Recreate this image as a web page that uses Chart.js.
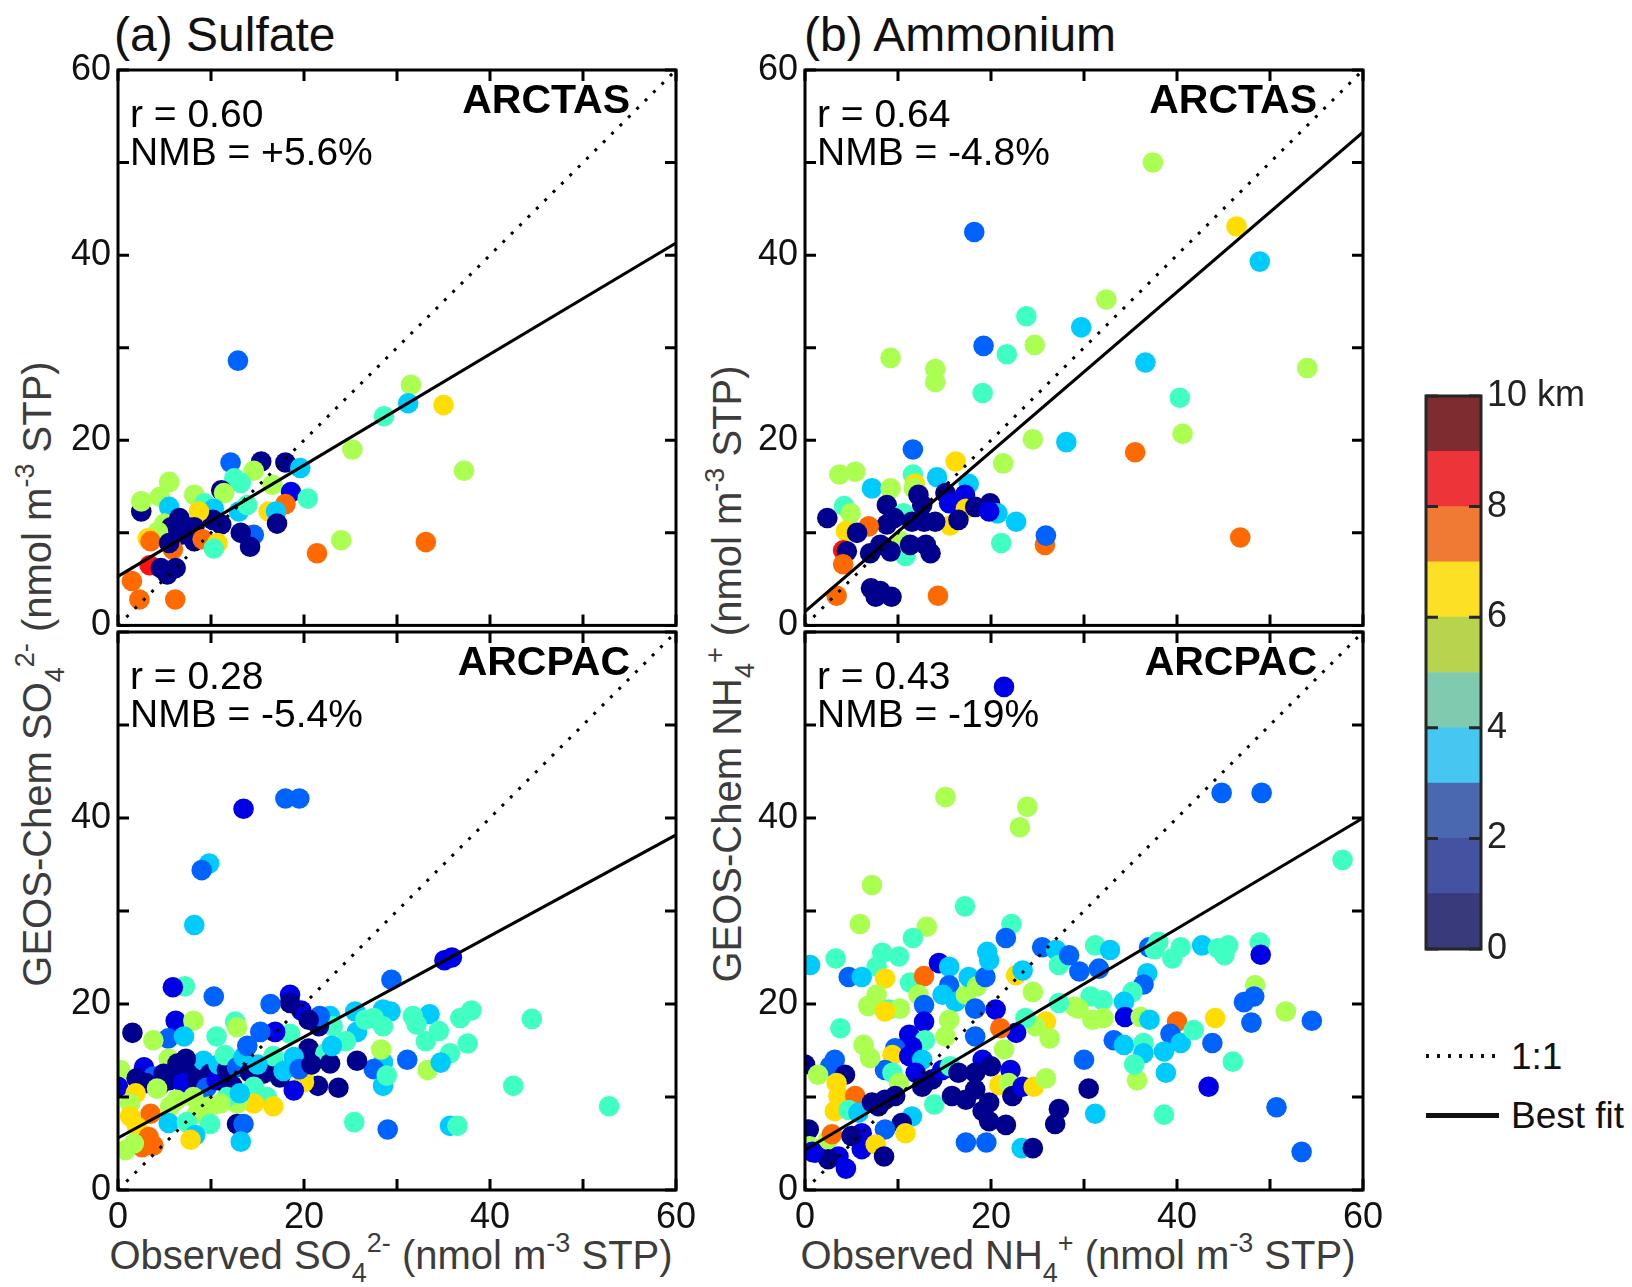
<!DOCTYPE html>
<html>
<head>
<meta charset="utf-8">
<script src="https://cdn.jsdelivr.net/npm/chart.js@4.4.1/dist/chart.umd.min.js"></script>
<style>
  body { margin: 0; background: #fff; font-family: "Liberation Sans", Arial, sans-serif; }
  #page { position: relative; width: 1632px; height: 1287px; overflow: hidden; }
  canvas, .txt { position: absolute; }
  .title { font-size: 48px; line-height: 48px; color: #111; white-space: nowrap; }
  .axt { font-size: 40px; line-height: 44px; height: 44px; color: #3c3c3c; white-space: nowrap; text-align: center; }
  .sb { font-size: 27px; position: relative; top: 13px; }
  .sp { font-size: 27px; position: relative; top: -17px; }
  .rot { transform: rotate(-90deg); transform-origin: 50% 50%; }
  .leg { font-size: 37px; line-height: 40px; color: #111; white-space: nowrap; }
</style>
</head>
<body>
<div id="page">
  <div class="txt title" style="left:114px; top:11px;">(a) Sulfate</div>
  <div class="txt title" style="left:804px; top:11px;">(b) Ammonium</div>

  <div class="txt axt rot" style="left:-343px; top:652px; width:760px;">GEOS-Chem SO<span class="sb">4</span><span class="sp">2-</span> (nmol m<span class="sp">-3</span> STP)</div>
  <div class="txt axt rot" style="left:347px; top:652px; width:760px;">GEOS-Chem NH<span class="sb">4</span><span class="sp">+</span> (nmol m<span class="sp">-3</span> STP)</div>

  <div class="txt axt" style="left:41px; top:1233px; width:700px;">Observed SO<span class="sb">4</span><span class="sp">2-</span> (nmol m<span class="sp">-3</span> STP)</div>
  <div class="txt axt" style="left:728px; top:1233px; width:700px;">Observed NH<span class="sb">4</span><span class="sp">+</span> (nmol m<span class="sp">-3</span> STP)</div>

  <canvas id="sulfArctas" width="668" height="614" style="left:38px; top:40px;"></canvas>
  <canvas id="sulfArcpac" width="668" height="643" style="left:38px; top:602px;"></canvas>
  <canvas id="nh4Arctas" width="668" height="614" style="left:725px; top:40px;"></canvas>
  <canvas id="nh4Arcpac" width="668" height="643" style="left:725px; top:602px;"></canvas>
  <canvas id="altBar" width="205" height="613" style="left:1416px; top:366px;"></canvas>

  <div class="txt" style="left:1426px; top:1054px; width:73px; height:4px;
       background: repeating-linear-gradient(to right, #111 0 3px, transparent 3px 11px);"></div>
  <div class="txt leg" style="left:1511px; top:1037px;">1:1</div>
  <div class="txt" style="left:1426px; top:1113px; width:73px; height:5px; background:#111;"></div>
  <div class="txt leg" style="left:1511px; top:1096px;">Best fit</div>
</div>

<script>
// [observed, model, altitude bin (km)]
const sulfateArctas = [
  [12.9, 28.6, 2], [31.5, 26.0, 5], [31.2, 24.0, 3], [28.6, 22.6, 4], [35.0, 23.8, 6],
  [25.2, 19.0, 5], [37.2, 16.7, 5], [24.0, 9.2, 5], [21.4, 7.8, 7], [33.1, 9.0, 7],
  [12.1, 17.6, 2], [15.4, 17.7, 0], [18.0, 17.6, 0], [19.6, 17.0, 3], [14.6, 16.7, 5],
  [16.6, 15.2, 5], [12.5, 15.9, 4], [13.2, 15.4, 4], [11.1, 14.6, 0], [11.4, 14.3, 5],
  [5.5, 15.5, 5], [4.5, 13.9, 5], [2.5, 12.3, 0], [2.5, 13.4, 5], [5.5, 12.8, 3],
  [8.2, 14.1, 5], [9.3, 13.2, 4], [10.3, 12.6, 3], [13.0, 12.3, 3], [13.9, 13.0, 4],
  [18.6, 14.4, 1], [20.4, 13.7, 4], [18.0, 13.1, 7], [16.2, 12.3, 6], [17.0, 12.3, 3],
  [17.1, 11.0, 0], [14.1, 9.8, 6], [14.6, 9.8, 2], [13.2, 10.0, 0], [14.2, 8.5, 0],
  [11.1, 10.9, 0], [10.2, 11.4, 0], [8.7, 12.3, 6], [5.0, 11.0, 5], [6.6, 11.6, 0],
  [7.5, 10.6, 0], [5.7, 10.6, 0], [8.2, 10.6, 0], [6.8, 9.8, 0], [4.3, 10.1, 5],
  [3.2, 9.4, 6], [3.5, 9.1, 7], [5.9, 8.2, 7], [5.5, 8.9, 0], [8.2, 9.1, 0],
  [9.1, 9.3, 7], [10.7, 8.9, 6], [10.3, 8.3, 4], [3.4, 6.5, 8], [4.6, 6.2, 0],
  [5.3, 5.5, 0], [6.2, 6.2, 0], [1.5, 4.8, 7], [2.3, 2.8, 7], [6.15, 2.8, 7]
];

const ammoniumArctas = [
  [37.4, 50.0, 5], [46.4, 43.1, 6], [48.9, 39.3, 3], [18.2, 42.5, 2], [32.4, 35.2, 5],
  [23.8, 33.4, 4], [29.7, 32.2, 3], [19.2, 30.2, 2], [24.7, 30.3, 5], [21.7, 29.3, 4],
  [9.2, 28.9, 5], [14.0, 27.7, 5], [14.0, 26.3, 5], [54.0, 27.8, 5], [36.6, 28.4, 3],
  [19.1, 25.1, 4], [40.3, 24.6, 4], [40.6, 20.7, 5], [24.5, 20.1, 5], [28.1, 19.8, 3],
  [35.5, 18.7, 7], [46.8, 9.5, 7], [25.8, 8.7, 7], [25.9, 9.7, 2], [22.7, 11.2, 3],
  [21.1, 8.9, 4], [21.3, 17.5, 5], [11.6, 19.0, 2], [16.2, 17.7, 6], [3.7, 16.3, 5],
  [5.4, 16.6, 5], [11.6, 16.3, 4], [11.8, 15.3, 6], [11.7, 14.8, 5], [14.2, 16.0, 3],
  [7.2, 14.8, 3], [9.2, 14.8, 5], [17.6, 15.3, 3], [4.2, 12.9, 4], [4.9, 12.1, 5],
  [2.4, 11.6, 0], [8.8, 13.0, 0], [12.2, 14.1, 0], [12.6, 13.0, 0], [15.1, 14.3, 0],
  [15.5, 13.2, 1], [17.2, 14.1, 1], [17.3, 12.6, 6], [18.3, 12.8, 0], [19.9, 13.2, 0],
  [20.7, 12.1, 3], [19.8, 12.3, 1], [15.6, 10.8, 6], [16.5, 11.4, 0], [14.0, 11.2, 0],
  [10.6, 12.1, 4], [9.6, 11.6, 0], [8.8, 10.9, 0], [11.5, 11.2, 0], [12.8, 11.2, 0],
  [6.85, 10.7, 7], [4.4, 10.2, 6], [5.6, 10.0, 0], [4.1, 8.1, 8], [4.5, 8.0, 0],
  [4.1, 6.6, 7], [10.3, 9.1, 5], [10.8, 7.5, 4], [7.0, 7.8, 0], [8.1, 8.7, 0],
  [9.2, 8.0, 0], [11.3, 8.7, 0], [13.0, 8.7, 0], [13.5, 7.8, 0], [7.1, 4.0, 0],
  [8.1, 3.7, 0], [7.6, 3.1, 0], [9.3, 3.1, 0], [3.4, 3.2, 7], [14.3, 3.2, 7]
];

const sulfateArcpac = [
  [13.5, 41.0, 1], [18.0, 42.1, 2], [19.5, 42.1, 2], [9.8, 35.1, 3], [9.0, 34.4, 2],
  [8.2, 28.5, 3], [35.1, 24.7, 1], [35.9, 25.0, 1], [29.4, 22.6, 2], [7.2, 21.9, 4],
  [5.9, 21.8, 1], [10.3, 20.8, 2], [44.5, 18.4, 4], [42.5, 11.2, 4], [52.8, 9.0, 4],
  [35.7, 6.9, 3], [36.5, 6.9, 4], [29.0, 6.5, 2], [25.4, 7.3, 4], [33.3, 12.9, 5],
  [1.55, 16.9, 0], [38.0, 19.3, 4], [36.8, 18.5, 4], [33.5, 18.9, 3], [31.7, 18.7, 4],
  [32.1, 17.8, 4], [34.5, 17.1, 4], [33.1, 16.0, 4], [37.6, 15.75, 4], [35.7, 14.7, 4],
  [34.7, 13.7, 3], [31.1, 14.0, 2], [28.5, 13.7, 3], [27.5, 13.0, 2], [25.7, 13.9, 0],
  [28.5, 11.2, 3], [28.9, 12.3, 4], [28.3, 15.1, 5], [23.7, 11.0, 0], [21.5, 11.2, 0],
  [25.7, 17.0, 3], [25.5, 19.2, 3], [26.6, 18.3, 4], [28.5, 19.4, 3], [29.3, 19.2, 3],
  [28.5, 17.6, 4], [22.8, 18.7, 3], [23.1, 17.6, 4], [21.6, 17.6, 0], [21.7, 18.7, 2],
  [19.7, 19.3, 1], [18.5, 21.0, 1], [18.5, 20.1, 0], [16.4, 20.0, 2], [18.5, 16.8, 4],
  [20.5, 18.3, 0], [20.5, 15.2, 0], [22.3, 14.7, 4], [22.8, 13.6, 0], [20.0, 12.5, 5],
  [20.0, 11.6, 6], [18.9, 10.7, 1], [17.4, 12.1, 0], [16.7, 13.5, 0], [18.9, 14.3, 3],
  [16.7, 14.4, 4], [16.9, 17.0, 1], [15.3, 17.0, 2], [6.2, 18.2, 1], [8.1, 18.2, 5],
  [5.4, 16.3, 2], [7.1, 16.5, 3], [3.8, 16.1, 5], [5.45, 14.1, 5], [10.6, 16.5, 4],
  [12.6, 18.1, 4], [12.8, 17.5, 5], [24.5, 16.0, 4], [23.0, 15.5, 3], [27.5, 18.5, 4],
  [0.25, 12.9, 5], [0.0, 11.1, 1], [2.8, 13.2, 1], [3.8, 12.2, 2], [2.0, 12.0, 0],
  [3.0, 11.5, 0], [4.5, 11.3, 1], [4.9, 12.5, 0], [6.0, 12.2, 0], [5.5, 11.8, 0],
  [7.2, 12.9, 0], [8.1, 13.2, 0], [9.2, 13.9, 3], [7.3, 14.1, 0], [6.4, 13.6, 0],
  [7.0, 11.5, 1], [8.5, 11.8, 0], [9.9, 12.5, 0], [9.5, 11.0, 2], [10.6, 11.8, 1],
  [10.8, 13.5, 3], [11.7, 12.9, 0], [11.5, 14.5, 4], [12.8, 13.2, 2], [13.5, 14.3, 3],
  [13.9, 15.5, 2], [14.2, 12.6, 0], [12.3, 11.2, 0], [15.6, 12.5, 0], [15.0, 13.5, 3],
  [17.8, 12.8, 3], [19.5, 13.0, 2], [20.8, 13.5, 0], [14.6, 11.1, 4], [16.0, 10.0, 4],
  [14.6, 9.3, 6], [16.7, 9.0, 6], [12.8, 9.3, 5], [11.7, 10.0, 4], [13.1, 10.4, 3],
  [1.9, 10.4, 6], [1.3, 9.3, 5], [4.2, 10.9, 5], [8.1, 10.0, 5], [6.3, 9.7, 5],
  [5.6, 9.0, 5], [9.9, 9.0, 5], [11.0, 9.3, 5], [8.5, 8.2, 5], [1.3, 7.9, 6],
  [3.5, 8.2, 7], [2.05, 6.8, 6], [5.45, 7.2, 3], [7.4, 7.3, 4], [9.9, 7.1, 4],
  [8.3, 5.9, 3], [7.8, 5.4, 6], [12.8, 7.1, 0], [13.5, 7.1, 2], [13.2, 5.2, 3],
  [3.3, 5.7, 7], [3.8, 4.8, 7], [2.6, 4.6, 7], [0.8, 4.3, 5], [1.7, 5.0, 5]
];

const ammoniumArcpac = [
  [21.4, 54.1, 1], [15.1, 42.25, 5], [23.9, 41.2, 5], [23.1, 39.0, 5], [44.8, 42.7, 2],
  [49.1, 42.7, 2], [57.8, 35.5, 4], [7.2, 32.8, 5], [17.2, 30.5, 4], [5.9, 28.6, 5],
  [13.1, 28.3, 5], [22.2, 28.6, 4], [21.6, 27.1, 2], [11.6, 27.1, 4], [0.55, 24.2, 3],
  [3.3, 24.9, 4], [48.9, 26.6, 4], [49.0, 25.3, 1], [48.4, 22.0, 5], [51.7, 19.2, 5],
  [54.5, 18.2, 2], [44.1, 18.5, 6], [40.0, 18.1, 7], [47.2, 20.2, 2], [48.0, 18.0, 2],
  [43.4, 11.1, 1], [50.7, 8.9, 2], [53.4, 4.1, 2], [38.6, 8.1, 4], [31.2, 8.2, 3],
  [30.5, 10.9, 0], [27.3, 8.7, 0], [26.9, 7.1, 0], [23.3, 4.5, 3], [24.5, 4.5, 0],
  [19.5, 5.1, 2], [17.3, 5.1, 2], [35.7, 11.8, 5],
  [31.2, 26.3, 4], [32.8, 25.8, 3], [37.0, 26.1, 2], [38.0, 26.7, 4], [37.6, 25.9, 4],
  [39.5, 24.9, 4], [40.4, 26.1, 4], [42.7, 26.3, 3], [44.4, 26.0, 4], [45.5, 26.3, 4],
  [45.1, 25.25, 4], [31.6, 23.8, 2], [36.8, 23.3, 3], [36.4, 22.1, 2], [35.2, 21.3, 4],
  [34.3, 20.25, 3], [32.0, 20.4, 4], [30.7, 20.8, 4], [29.4, 19.5, 5], [30.9, 18.3, 5],
  [32.1, 18.5, 5], [34.4, 18.6, 1], [36.1, 18.6, 5], [37.05, 18.3, 3], [39.3, 16.8, 2],
  [40.4, 15.8, 3], [41.8, 17.2, 4], [43.8, 15.8, 2], [46.0, 13.8, 4], [48.3, 20.8, 2],
  [33.2, 16.1, 2], [34.3, 15.6, 3], [36.4, 15.8, 4], [36.4, 14.7, 3], [35.4, 13.5, 4],
  [38.6, 14.9, 3], [38.8, 12.6, 3], [30.0, 14.0, 2],
  [8.3, 25.5, 4], [10.1, 25.1, 4], [7.7, 24.0, 4], [4.7, 22.9, 2], [6.1, 22.9, 3],
  [8.6, 22.75, 6], [11.3, 22.3, 4], [12.8, 23.0, 7], [12.2, 21.0, 5], [7.7, 21.0, 5],
  [6.8, 19.8, 5], [9.0, 19.4, 4], [10.2, 19.5, 5], [8.6, 19.2, 6], [12.8, 19.9, 2],
  [14.4, 24.4, 1], [15.5, 24.0, 3], [15.5, 22.0, 2], [14.8, 21.0, 3], [16.2, 20.25, 3],
  [17.3, 21.0, 5], [17.6, 22.9, 3], [18.5, 21.9, 5], [19.4, 22.9, 2], [19.6, 25.6, 3],
  [19.8, 24.7, 3], [18.3, 19.5, 2], [20.5, 19.4, 1], [22.7, 23.1, 6], [23.4, 23.6, 3],
  [25.5, 26.1, 2], [27.0, 25.8, 3], [24.5, 21.3, 5], [27.3, 24.2, 4], [28.4, 25.25, 2],
  [29.5, 23.5, 2], [29.0, 19.7, 5], [27.3, 20.1, 4], [25.9, 18.1, 6], [26.3, 16.3, 5],
  [24.8, 17.6, 5], [23.7, 18.5, 4], [22.7, 16.9, 1], [21.0, 17.4, 7], [21.4, 15.1, 5],
  [18.3, 16.5, 2], [15.5, 18.3, 5], [15.1, 16.5, 5], [12.8, 18.1, 1], [11.2, 16.7, 1],
  [12.9, 16.1, 4], [11.5, 15.4, 1], [9.7, 15.25, 2], [9.4, 14.5, 6], [8.6, 12.9, 2],
  [9.4, 12.6, 4], [11.2, 14.4, 1], [12.6, 14.0, 3], [11.9, 12.6, 1], [10.1, 11.5, 5],
  [3.8, 17.4, 4], [6.3, 15.6, 5], [7.0, 14.2, 5], [3.2, 14.0, 2], [2.7, 13.3, 2],
  [0.0, 13.5, 0], [1.4, 12.4, 5], [4.3, 12.4, 0], [3.4, 11.5, 6], [3.6, 10.1, 6],
  [3.2, 8.5, 6], [5.4, 10.1, 7], [4.7, 8.6, 4], [5.75, 8.3, 3], [7.2, 9.4, 0],
  [8.6, 9.7, 0], [7.9, 9.0, 0], [11.5, 7.9, 3], [10.4, 7.2, 0], [8.6, 6.5, 2],
  [10.8, 6.1, 6], [9.7, 10.1, 0], [12.6, 11.1, 0], [13.7, 11.9, 0], [13.9, 9.2, 4],
  [14.75, 12.9, 1], [15.6, 13.3, 4], [16.5, 12.6, 0], [15.8, 10.1, 0], [17.3, 9.7, 0],
  [18.3, 10.8, 0], [19.1, 14.0, 1], [18.3, 12.6, 0], [20.0, 13.3, 0], [20.9, 11.3, 6],
  [22.1, 12.9, 1], [21.9, 11.5, 5], [22.3, 10.1, 0], [23.4, 11.1, 1], [24.6, 11.1, 6],
  [25.9, 12.0, 5], [19.8, 9.4, 0], [19.8, 7.4, 0], [21.6, 7.0, 0], [19.1, 8.5, 0],
  [0.4, 6.5, 0], [0.5, 4.7, 5], [1.1, 4.0, 1], [2.5, 5.4, 5], [2.9, 6.0, 7],
  [3.6, 3.6, 1], [6.1, 4.4, 1], [6.1, 6.1, 1], [7.6, 4.9, 6], [5.0, 5.8, 0],
  [2.5, 3.3, 0], [0.8, 4.1, 1], [4.4, 2.3, 1], [8.5, 3.6, 0]
];

// best-fit lines and stats, panel order: a-ARCTAS, b-ARCTAS, a-ARCPAC, b-ARCPAC
const fitSlopes = [0.600, 0.863, 0.543, 0.595];
const fitIntercepts = [5.3, 1.5, 5.6, 4.3];
const rValues = ['0.60', '0.64', '0.28', '0.43'];
const nmbValues = ['+5.6%', '-4.8%', '-5.4%', '-19%'];
const campaigns = ['ARCTAS', 'ARCTAS', 'ARCPAC', 'ARCPAC'];

const axisTicks = [0, 10, 20, 30, 40, 50, 60];
const altitudeEdges = [0, 1, 2, 3, 4, 5, 6, 7, 8, 9, 10];
const altitudeTicks = [0, 2, 4, 6, 8, 10];

const pointColors = ['#00008c', '#0000e6', '#0062ff', '#00cbff', '#40ffc2',
                     '#aaff50', '#ffdd00', '#ff6a00', '#ff1010', '#8c0000'];
const barColors = ['#393a7b', '#4453a1', '#4a68b0', '#45c7f1', '#80cab0',
                   '#b8d44f', '#fbe025', '#f07a33', '#ed3539', '#7f2c30'];

Chart.defaults.font.family = '"Liberation Sans", Arial, sans-serif';

const FONT = '"Liberation Sans", Arial, sans-serif';
const TICK_LEN = 11;

// frame, inward ticks and the r / NMB / campaign labels
const panelDecor = {
  id: 'panelDecor',
  afterDatasetsDraw(chart, args, opts) {
    const { ctx, chartArea: a } = chart;
    const x = chart.scales.x, y = chart.scales.y;
    ctx.save();
    ctx.strokeStyle = '#000';
    ctx.lineWidth = 3;
    ctx.beginPath();
    axisTicks.forEach(v => {
      const px = x.getPixelForValue(v);
      const py = y.getPixelForValue(v);
      ctx.moveTo(px, a.bottom); ctx.lineTo(px, a.bottom - TICK_LEN);
      ctx.moveTo(px, a.top); ctx.lineTo(px, a.top + TICK_LEN);
      ctx.moveTo(a.left, py); ctx.lineTo(a.left + TICK_LEN, py);
      ctx.moveTo(a.right, py); ctx.lineTo(a.right - TICK_LEN, py);
    });
    ctx.stroke();
    ctx.strokeRect(a.left, a.top, a.right - a.left, a.bottom - a.top);

    ctx.fillStyle = '#000';
    ctx.textBaseline = 'alphabetic';
    ctx.textAlign = 'left';
    ctx.font = '39px ' + FONT;
    ctx.fillText('r = ' + opts.r, a.left + 12, a.top + 57);
    ctx.fillText('NMB = ' + opts.nmb, a.left + 12, a.top + 95);
    ctx.textAlign = 'right';
    ctx.font = 'bold 41px ' + FONT;
    ctx.fillText(opts.campaign, a.right - 46, a.top + 43);
    ctx.restore();
  }
};

function makePanel(id, pts, k, bottomRow) {
  const m = fitSlopes[k], b = fitIntercepts[k];
  new Chart(document.getElementById(id), {
    type: 'scatter',
    data: {
      datasets: [
        {
          data: [{ x: 0, y: 0 }, { x: 60, y: 60 }],
          showLine: true, borderColor: '#000', borderWidth: 3,
          borderDash: [3, 8.8], pointRadius: 0, order: 0
        },
        {
          data: [{ x: 0, y: b }, { x: 60, y: b + 60 * m }],
          showLine: true, borderColor: '#000', borderWidth: 3,
          pointRadius: 0, order: 0
        },
        {
          data: pts.map(p => ({ x: p[0], y: p[1] })),
          pointRadius: 10.3,
          pointBackgroundColor: pts.map(p => pointColors[p[2]]),
          pointBorderWidth: 0,
          pointBorderColor: 'rgba(0,0,0,0)',
          order: 1,
          clip: 1
        }
      ]
    },
    options: {
      responsive: false,
      animation: false,
      events: [],
      layout: { padding: { top: 30, right: 30, left: 0, bottom: 0 } },
      plugins: {
        legend: { display: false },
        tooltip: { enabled: false },
        panelDecor: { r: rValues[k], nmb: nmbValues[k], campaign: campaigns[k] }
      },
      scales: {
        x: {
          type: 'linear', min: 0, max: 60,
          grid: { display: false, drawTicks: false }, border: { display: false },
          ticks: {
            display: bottomRow, stepSize: 10, padding: 6, autoSkip: false, maxRotation: 0,
            color: '#111', font: { size: 36 },
            callback: v => (v % 20 === 0 ? v : '')
          },
          afterFit: s => { s.height = bottomRow ? 55 : 26; }
        },
        y: {
          type: 'linear', min: 0, max: 60,
          grid: { display: false, drawTicks: false }, border: { display: false },
          ticks: {
            stepSize: 10, padding: 7, autoSkip: false,
            color: '#111', font: { size: 36 },
            callback: v => (v % 20 === 0 && !(bottomRow && v === 60) ? v : '')
          },
          afterFit: s => { s.width = 80; }
        }
      }
    },
    plugins: [panelDecor]
  });
}

makePanel('sulfArctas', sulfateArctas, 0, false);
makePanel('nh4Arctas', ammoniumArctas, 1, false);
makePanel('sulfArcpac', sulfateArcpac, 2, true);
makePanel('nh4Arcpac', ammoniumArcpac, 3, true);

// altitude colour bar
const barFrame = {
  id: 'barFrame',
  afterDatasetsDraw(chart) {
    const { ctx, chartArea: a } = chart;
    const y = chart.scales.y;
    ctx.save();
    ctx.strokeStyle = '#262626';
    ctx.lineWidth = 3;
    ctx.beginPath();
    altitudeTicks.forEach(v => {
      const py = y.getPixelForValue(v);
      ctx.moveTo(a.left, py); ctx.lineTo(a.left + 12, py);
      ctx.moveTo(a.right, py); ctx.lineTo(a.right - 12, py);
    });
    ctx.stroke();
    ctx.strokeRect(a.left, a.top, a.right - a.left, a.bottom - a.top);
    ctx.restore();
  }
};

new Chart(document.getElementById('altBar'), {
  type: 'bar',
  data: {
    labels: ['altitude'],
    datasets: barColors.map((c, i) => ({
      data: [altitudeEdges[i + 1] - altitudeEdges[i]],
      backgroundColor: c,
      borderWidth: 0,
      barPercentage: 1,
      categoryPercentage: 1
    }))
  },
  options: {
    responsive: false,
    animation: false,
    events: [],
    layout: { padding: { top: 30, bottom: 30, left: 10, right: 0 } },
    plugins: { legend: { display: false }, tooltip: { enabled: false } },
    scales: {
      x: { stacked: true, display: false },
      y: {
        stacked: true, position: 'right', min: 0, max: 10,
        grid: { display: false, drawTicks: false }, border: { display: false },
        ticks: {
          stepSize: 2, padding: 6, color: '#222', font: { size: 36 },
          callback: v => (v === 10 ? '10 km' : v)
        },
        afterFit: s => { s.width = 140; }
      }
    }
  },
  plugins: [barFrame]
});
</script>
</body>
</html>
